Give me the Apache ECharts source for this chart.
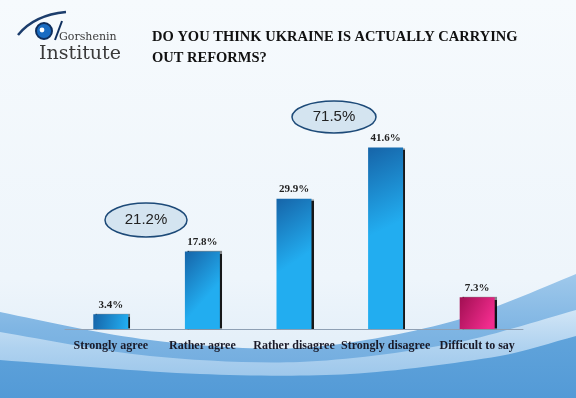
<!DOCTYPE html>
<html>
<head>
<meta charset="utf-8">
<script src="https://cdn.jsdelivr.net/npm/echarts@6/dist/echarts.min.js"></script>
<style>
  html, body { margin: 0; padding: 0; }
  #chart { width: 576px; height: 398px; }
</style>
</head>
<body>
<div id="chart"></div>
<script>
// answers and shares, %
var categories = ['Strongly agree', 'Rather agree', 'Rather disagree', 'Strongly disagree', 'Difficult to say'];
var values = [3.4, 17.8, 29.9, 41.6, 7.3];
var groupTotals = ['21.2%', '71.5%'];

var blueBar = {
    type: 'linear', x: 0, y: 0, x2: 1, y2: 0.4,
    colorStops: [{ offset: 0, color: '#1664a8' }, { offset: 1, color: '#22adf0' }]
};
var pinkBar = {
    type: 'linear', x: 0, y: 0, x2: 1, y2: 0.6,
    colorStops: [{ offset: 0, color: '#a10f52' }, { offset: 1, color: '#f22c8e' }]
};

var barData = values.map(function (v, i) {
    return {
        value: v,
        itemStyle: { color: i === values.length - 1 ? pinkBar : blueBar }
    };
});

function bubble(cx, cy, rx, ry, text) {
    return {
        type: 'group',
        z: 20,
        children: [{
            type: 'ellipse',
            shape: { cx: cx, cy: cy, rx: rx, ry: ry },
            style: { fill: '#d4e4f0', stroke: '#1d4a78', lineWidth: 1.5 }
        }, {
            type: 'text',
            style: {
                x: cx, y: cy, text: text,
                font: '15px "Liberation Sans"', fill: '#222',
                textAlign: 'center', textVerticalAlign: 'middle'
            }
        }]
    };
}

// decorative wave, smooth polygon (corners pushed off canvas)
function wave(points, z, stops) {
    return {
        type: 'polygon', z: z, silent: true,
        shape: { points: points, smooth: 0.3 },
        style: {
            fill: { type: 'linear', x: 0, y: 0, x2: 0, y2: 1, colorStops: stops }
        }
    };
}

var chart = echarts.init(document.getElementById('chart'));
var option = {
    backgroundColor: '#f4f9fc',
    animation: false,
    title: {
        text: 'DO YOU THINK UKRAINE IS ACTUALLY CARRYING\nOUT REFORMS?',
        left: 147,
        top: 22,
        textStyle: {
            fontFamily: 'Liberation Serif',
            fontWeight: 'bold',
            fontSize: 14.5,
            lineHeight: 21,
            color: '#111'
        }
    },
    grid: { left: 65, right: 53, top: 111, bottom: 69 },
    xAxis: {
        type: 'category',
        data: categories,
        axisLine: { lineStyle: { color: '#8ea0b4', width: 1 } },
        axisTick: { length: 4, lineStyle: { color: '#8ea0b4' } },
        axisLabel: {
            interval: 0,
            margin: 11,
            fontFamily: 'Liberation Serif',
            fontWeight: 'bold',
            fontSize: 12,
            color: '#1a1a28'
        }
    },
    yAxis: {
        type: 'value',
        min: 0,
        max: 50,
        show: false
    },
    series: [{
        type: 'bar',
        data: barData,
        barWidth: 35,
        z: 5,
        itemStyle: {
            shadowColor: 'rgba(0,0,0,0.9)',
            shadowOffsetX: 2,
            shadowOffsetY: 0,
            shadowBlur: 1
        },
        label: {
            show: true,
            position: 'top',
            distance: 4,
            formatter: '{c}%',
            fontFamily: 'Liberation Serif',
            fontWeight: 'bold',
            fontSize: 11,
            color: '#222'
        }
    }],
    graphic: [
        {
            type: 'rect', z: -12, silent: true,
            shape: { x: 0, y: 0, width: 576, height: 398 },
            style: {
                fill: { type: 'linear', x: 0, y: 0, x2: 0, y2: 1,
                    colorStops: [{ offset: 0, color: '#f6fafd' }, { offset: 0.7, color: '#eef5fb' }, { offset: 1, color: '#dcebf7' }] }
            }
        },
        wave([[-60, 296], [0, 312], [150, 340], [300, 348], [450, 322], [576, 274], [640, 244], [640, 460], [-60, 460]], -10,
            [{ offset: 0, color: '#b2d4f0' }, { offset: 0.35, color: '#7fb5e3' }, { offset: 1, color: '#4a92d3' }]),
        wave([[-60, 320], [0, 332], [150, 356], [300, 362], [450, 344], [576, 310], [640, 290], [640, 460], [-60, 460]], -9,
            [{ offset: 0, color: 'rgba(240,247,252,0.9)' }, { offset: 0.3, color: 'rgba(185,216,242,0.85)' }, { offset: 1, color: 'rgba(90,158,218,0.9)' }]),
        wave([[-60, 354], [0, 360], [200, 374], [350, 374], [500, 356], [576, 336], [640, 320], [640, 460], [-60, 460]], -8,
            [{ offset: 0, color: '#64a6dc' }, { offset: 1, color: '#428ed1' }]),
        // logo
        {
            type: 'group', z: 20,
            children: [{
                type: 'bezierCurve',
                shape: { x1: 18, y1: 35, cpx1: 34, cpy1: 15, x2: 66, y2: 12 },
                style: { stroke: '#1c3d6c', lineWidth: 2.5, fill: null }
            }, {
                type: 'circle',
                shape: { cx: 44, cy: 31, r: 8 },
                style: { fill: '#1a6cc2', stroke: '#0f2f5e', lineWidth: 2 }
            }, {
                type: 'circle',
                shape: { cx: 42, cy: 30, r: 2.4 },
                style: { fill: '#ffffff' }
            }, {
                type: 'line',
                shape: { x1: 55, y1: 40, x2: 62, y2: 21 },
                style: { stroke: '#0f2f5e', lineWidth: 2 }
            }, {
                type: 'text',
                style: { x: 59, y: 37, text: 'Gorshenin', font: '11px "DejaVu Serif"',
                    fill: '#3a3a3a', textVerticalAlign: 'middle' }
            }, {
                type: 'text',
                style: { x: 39, y: 54, text: 'Institute', font: '19px "DejaVu Serif"',
                    fill: '#3a3a3a', textVerticalAlign: 'middle' }
            }]
        },
        bubble(146, 220, 41, 17, groupTotals[0]),
        bubble(334, 117, 42, 16, groupTotals[1])
    ]
};
chart.setOption(option);
</script>
</body>
</html>
